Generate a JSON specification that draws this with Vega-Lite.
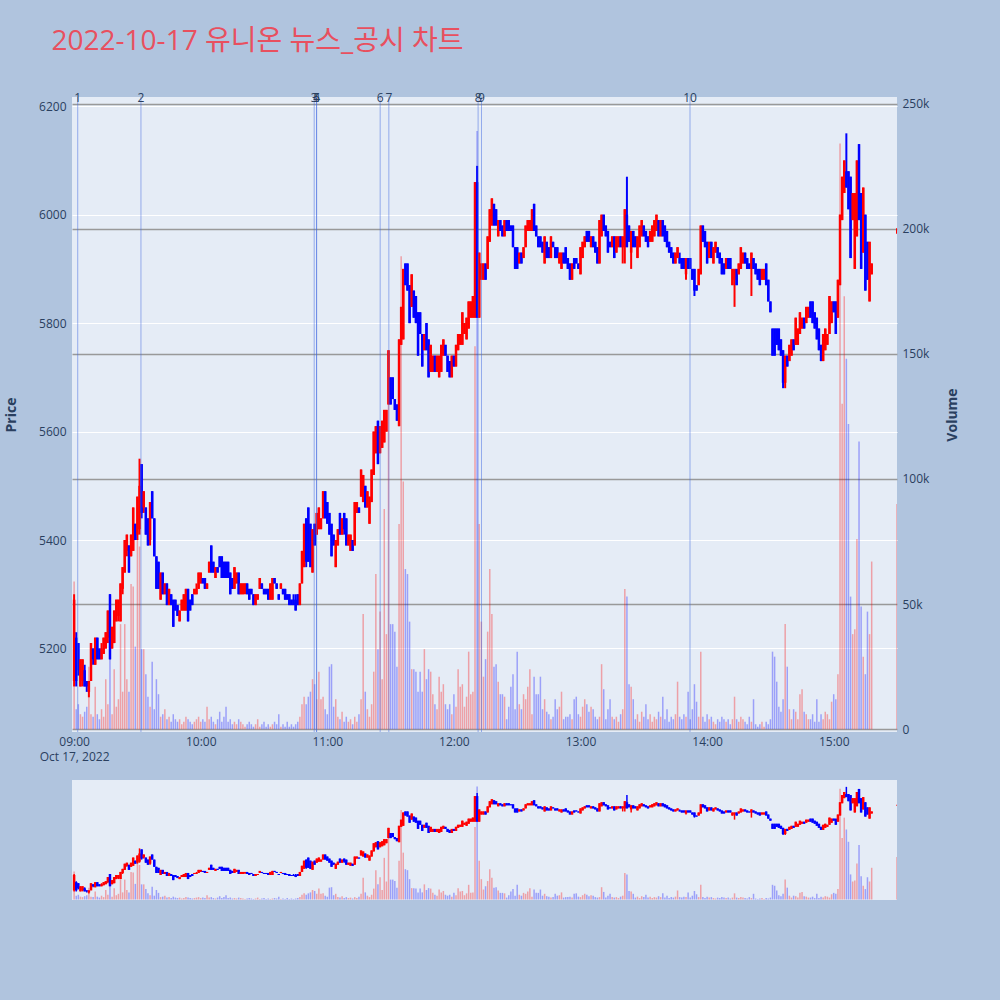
{
"$schema": "https://vega.github.io/schema/vega-lite/v6.json",
"background": "#B0C4DE",
"padding": {"left": 4, "top": 28, "right": 40, "bottom": 100},
"title": {"text": "2022-10-17 유니온 뉴스_공시 차트", "anchor": "start", "fontSize": 28, "font": "Open Sans, Noto Sans CJK KR", "fontWeight": "normal", "color": "#E8505F", "offset": 36, "dx": 47},
"data": {"format": {"parse": {"t": "utc:'%H:%M'"}}, "values": [
{"t":"09:00","o":5140,"h":5300,"l":5130,"c":5290,"v":59000},
{"t":"09:01","o":5220,"h":5230,"l":5130,"c":5140,"v":8000},
{"t":"09:02","o":5210,"h":5210,"l":5150,"c":5160,"v":10000},
{"t":"09:03","o":5130,"h":5180,"l":5130,"c":5180,"v":6000},
{"t":"09:04","o":5140,"h":5180,"l":5130,"c":5180,"v":5000},
{"t":"09:05","o":5160,"h":5170,"l":5130,"c":5130,"v":7000},
{"t":"09:06","o":5140,"h":5140,"l":5120,"c":5130,"v":9000},
{"t":"09:07","o":5120,"h":5140,"l":5110,"c":5140,"v":25000},
{"t":"09:08","o":5140,"h":5210,"l":5140,"c":5210,"v":6000},
{"t":"09:09","o":5200,"h":5200,"l":5170,"c":5180,"v":5000},
{"t":"09:10","o":5170,"h":5220,"l":5170,"c":5220,"v":17000},
{"t":"09:11","o":5220,"h":5220,"l":5180,"c":5180,"v":6000},
{"t":"09:12","o":5200,"h":5200,"l":5180,"c":5180,"v":4000},
{"t":"09:13","o":5180,"h":5210,"l":5180,"c":5200,"v":8000},
{"t":"09:14","o":5190,"h":5220,"l":5190,"c":5220,"v":5000},
{"t":"09:15","o":5200,"h":5230,"l":5200,"c":5230,"v":20000},
{"t":"09:16","o":5220,"h":5270,"l":5210,"c":5270,"v":10000},
{"t":"09:17","o":5300,"h":5300,"l":5180,"c":5180,"v":28000},
{"t":"09:18","o":5200,"h":5240,"l":5200,"c":5240,"v":6000},
{"t":"09:19","o":5210,"h":5270,"l":5210,"c":5270,"v":24000},
{"t":"09:20","o":5250,"h":5290,"l":5250,"c":5290,"v":9000},
{"t":"09:21","o":5260,"h":5290,"l":5250,"c":5290,"v":12000},
{"t":"09:22","o":5250,"h":5320,"l":5250,"c":5320,"v":42000},
{"t":"09:23","o":5310,"h":5350,"l":5300,"c":5350,"v":15000},
{"t":"09:24","o":5340,"h":5400,"l":5340,"c":5400,"v":42000},
{"t":"09:25","o":5380,"h":5410,"l":5370,"c":5410,"v":20000},
{"t":"09:26","o":5390,"h":5390,"l":5340,"c":5340,"v":15000},
{"t":"09:27","o":5370,"h":5410,"l":5370,"c":5410,"v":58000},
{"t":"09:28","o":5380,"h":5460,"l":5380,"c":5460,"v":57000},
{"t":"09:29","o":5430,"h":5430,"l":5400,"c":5400,"v":33000},
{"t":"09:30","o":5410,"h":5480,"l":5400,"c":5480,"v":76000},
{"t":"09:31","o":5420,"h":5550,"l":5410,"c":5500,"v":73000},
{"t":"09:32","o":5540,"h":5540,"l":5440,"c":5450,"v":32000},
{"t":"09:33","o":5460,"h":5490,"l":5450,"c":5490,"v":32000},
{"t":"09:34","o":5460,"h":5460,"l":5410,"c":5410,"v":22000},
{"t":"09:35","o":5440,"h":5440,"l":5390,"c":5390,"v":13000},
{"t":"09:36","o":5400,"h":5470,"l":5390,"c":5470,"v":9000},
{"t":"09:37","o":5490,"h":5490,"l":5440,"c":5440,"v":27000},
{"t":"09:38","o":5440,"h":5440,"l":5370,"c":5370,"v":8000},
{"t":"09:39","o":5370,"h":5370,"l":5310,"c":5310,"v":20000},
{"t":"09:40","o":5360,"h":5360,"l":5310,"c":5310,"v":14000},
{"t":"09:41","o":5290,"h":5340,"l":5290,"c":5340,"v":5000},
{"t":"09:42","o":5340,"h":5340,"l":5300,"c":5300,"v":6000},
{"t":"09:43","o":5300,"h":5320,"l":5300,"c":5320,"v":8000},
{"t":"09:44","o":5320,"h":5320,"l":5280,"c":5280,"v":4000},
{"t":"09:45","o":5280,"h":5310,"l":5280,"c":5310,"v":5000},
{"t":"09:46","o":5300,"h":5300,"l":5280,"c":5280,"v":3000},
{"t":"09:47","o":5290,"h":5290,"l":5240,"c":5240,"v":6000},
{"t":"09:48","o":5290,"h":5290,"l":5270,"c":5270,"v":4000},
{"t":"09:49","o":5280,"h":5280,"l":5260,"c":5260,"v":3000},
{"t":"09:50","o":5250,"h":5270,"l":5250,"c":5270,"v":4000},
{"t":"09:51","o":5270,"h":5290,"l":5270,"c":5290,"v":2000},
{"t":"09:52","o":5270,"h":5300,"l":5270,"c":5300,"v":3000},
{"t":"09:53","o":5270,"h":5310,"l":5270,"c":5310,"v":5000},
{"t":"09:54","o":5310,"h":5310,"l":5250,"c":5250,"v":4000},
{"t":"09:55","o":5290,"h":5290,"l":5270,"c":5270,"v":3000},
{"t":"09:56","o":5300,"h":5300,"l":5280,"c":5280,"v":2000},
{"t":"09:57","o":5300,"h":5310,"l":5300,"c":5310,"v":3000},
{"t":"09:58","o":5300,"h":5320,"l":5300,"c":5310,"v":4000},
{"t":"09:59","o":5310,"h":5340,"l":5310,"c":5340,"v":5000},
{"t":"10:00","o":5320,"h":5340,"l":5320,"c":5340,"v":3000},
{"t":"10:01","o":5330,"h":5330,"l":5320,"c":5320,"v":4000},
{"t":"10:02","o":5330,"h":5330,"l":5310,"c":5310,"v":3000},
{"t":"10:03","o":5310,"h":5320,"l":5310,"c":5320,"v":9000},
{"t":"10:04","o":5340,"h":5360,"l":5340,"c":5360,"v":4000},
{"t":"10:05","o":5390,"h":5390,"l":5340,"c":5340,"v":5000},
{"t":"10:06","o":5360,"h":5360,"l":5340,"c":5340,"v":3000},
{"t":"10:07","o":5330,"h":5350,"l":5330,"c":5350,"v":2000},
{"t":"10:08","o":5350,"h":5350,"l":5340,"c":5340,"v":4000},
{"t":"10:09","o":5370,"h":5370,"l":5350,"c":5350,"v":7000},
{"t":"10:10","o":5370,"h":5370,"l":5330,"c":5330,"v":3000},
{"t":"10:11","o":5360,"h":5360,"l":5330,"c":5330,"v":5000},
{"t":"10:12","o":5360,"h":5360,"l":5330,"c":5330,"v":9000},
{"t":"10:13","o":5360,"h":5360,"l":5330,"c":5330,"v":3000},
{"t":"10:14","o":5340,"h":5340,"l":5300,"c":5300,"v":4000},
{"t":"10:15","o":5330,"h":5330,"l":5310,"c":5310,"v":2000},
{"t":"10:16","o":5310,"h":5350,"l":5310,"c":5350,"v":3000},
{"t":"10:17","o":5320,"h":5340,"l":5320,"c":5340,"v":2000},
{"t":"10:18","o":5340,"h":5340,"l":5300,"c":5300,"v":4000},
{"t":"10:19","o":5300,"h":5320,"l":5300,"c":5320,"v":3000},
{"t":"10:20","o":5300,"h":5320,"l":5300,"c":5320,"v":2000},
{"t":"10:21","o":5310,"h":5320,"l":5300,"c":5320,"v":1000},
{"t":"10:22","o":5320,"h":5320,"l":5300,"c":5300,"v":2000},
{"t":"10:23","o":5310,"h":5310,"l":5290,"c":5290,"v":3000},
{"t":"10:24","o":5310,"h":5310,"l":5300,"c":5300,"v":2000},
{"t":"10:25","o":5300,"h":5300,"l":5280,"c":5280,"v":1000},
{"t":"10:26","o":5280,"h":5300,"l":5280,"c":5300,"v":2000},
{"t":"10:27","o":5290,"h":5300,"l":5290,"c":5300,"v":4000},
{"t":"10:28","o":5310,"h":5330,"l":5310,"c":5330,"v":1000},
{"t":"10:29","o":5320,"h":5320,"l":5310,"c":5310,"v":2000},
{"t":"10:30","o":5310,"h":5310,"l":5300,"c":5300,"v":3000},
{"t":"10:31","o":5310,"h":5310,"l":5300,"c":5300,"v":1000},
{"t":"10:32","o":5310,"h":5310,"l":5290,"c":5290,"v":2000},
{"t":"10:33","o":5290,"h":5320,"l":5290,"c":5320,"v":1000},
{"t":"10:34","o":5290,"h":5330,"l":5290,"c":5330,"v":2000},
{"t":"10:35","o":5330,"h":5330,"l":5320,"c":5320,"v":3000},
{"t":"10:36","o":5320,"h":5320,"l":5310,"c":5310,"v":2000},
{"t":"10:37","o":5300,"h":5300,"l":5290,"c":5290,"v":6000},
{"t":"10:38","o":5310,"h":5320,"l":5310,"c":5320,"v":1000},
{"t":"10:39","o":5310,"h":5310,"l":5300,"c":5300,"v":2000},
{"t":"10:40","o":5310,"h":5310,"l":5290,"c":5290,"v":1000},
{"t":"10:41","o":5300,"h":5300,"l":5290,"c":5290,"v":3000},
{"t":"10:42","o":5300,"h":5300,"l":5280,"c":5280,"v":1000},
{"t":"10:43","o":5290,"h":5290,"l":5280,"c":5280,"v":2000},
{"t":"10:44","o":5290,"h":5300,"l":5280,"c":5280,"v":1000},
{"t":"10:45","o":5290,"h":5300,"l":5270,"c":5270,"v":2000},
{"t":"10:46","o":5300,"h":5300,"l":5280,"c":5280,"v":3000},
{"t":"10:47","o":5280,"h":5320,"l":5280,"c":5320,"v":5000},
{"t":"10:48","o":5320,"h":5380,"l":5320,"c":5380,"v":10000},
{"t":"10:49","o":5350,"h":5430,"l":5350,"c":5430,"v":13000},
{"t":"10:50","o":5440,"h":5440,"l":5350,"c":5360,"v":10000},
{"t":"10:51","o":5460,"h":5460,"l":5360,"c":5360,"v":13000},
{"t":"10:52","o":5430,"h":5430,"l":5350,"c":5350,"v":15000},
{"t":"10:53","o":5340,"h":5420,"l":5340,"c":5420,"v":20000},
{"t":"10:54","o":5430,"h":5430,"l":5390,"c":5390,"v":18000},
{"t":"10:55","o":5410,"h":5450,"l":5410,"c":5450,"v":12000},
{"t":"10:56","o":5420,"h":5460,"l":5420,"c":5460,"v":23000},
{"t":"10:57","o":5420,"h":5440,"l":5420,"c":5440,"v":12000},
{"t":"10:58","o":5440,"h":5490,"l":5440,"c":5490,"v":13000},
{"t":"10:59","o":5490,"h":5490,"l":5440,"c":5440,"v":8000},
{"t":"11:00","o":5470,"h":5470,"l":5430,"c":5430,"v":6000},
{"t":"11:01","o":5450,"h":5450,"l":5410,"c":5410,"v":25000},
{"t":"11:02","o":5430,"h":5430,"l":5370,"c":5370,"v":26000},
{"t":"11:03","o":5410,"h":5410,"l":5390,"c":5390,"v":9000},
{"t":"11:04","o":5350,"h":5400,"l":5350,"c":5400,"v":12000},
{"t":"11:05","o":5390,"h":5420,"l":5390,"c":5420,"v":5000},
{"t":"11:06","o":5450,"h":5450,"l":5410,"c":5410,"v":4000},
{"t":"11:07","o":5410,"h":5440,"l":5410,"c":5440,"v":7000},
{"t":"11:08","o":5450,"h":5450,"l":5410,"c":5420,"v":3000},
{"t":"11:09","o":5440,"h":5440,"l":5390,"c":5390,"v":5000},
{"t":"11:10","o":5390,"h":5410,"l":5390,"c":5410,"v":3000},
{"t":"11:11","o":5380,"h":5410,"l":5380,"c":5410,"v":4000},
{"t":"11:12","o":5400,"h":5400,"l":5380,"c":5380,"v":2000},
{"t":"11:13","o":5390,"h":5470,"l":5390,"c":5470,"v":5000},
{"t":"11:14","o":5450,"h":5470,"l":5450,"c":5470,"v":3000},
{"t":"11:15","o":5460,"h":5460,"l":5450,"c":5450,"v":6000},
{"t":"11:16","o":5480,"h":5530,"l":5480,"c":5530,"v":12000},
{"t":"11:17","o":5470,"h":5520,"l":5470,"c":5520,"v":46000},
{"t":"11:18","o":5500,"h":5500,"l":5460,"c":5460,"v":15000},
{"t":"11:19","o":5460,"h":5490,"l":5460,"c":5490,"v":8000},
{"t":"11:20","o":5430,"h":5480,"l":5430,"c":5480,"v":5000},
{"t":"11:21","o":5470,"h":5530,"l":5470,"c":5530,"v":10000},
{"t":"11:22","o":5520,"h":5600,"l":5520,"c":5600,"v":23000},
{"t":"11:23","o":5560,"h":5610,"l":5560,"c":5610,"v":62000},
{"t":"11:24","o":5620,"h":5620,"l":5540,"c":5540,"v":32000},
{"t":"11:25","o":5560,"h":5610,"l":5560,"c":5610,"v":47000},
{"t":"11:26","o":5570,"h":5620,"l":5570,"c":5620,"v":20000},
{"t":"11:27","o":5580,"h":5640,"l":5580,"c":5640,"v":88000},
{"t":"11:28","o":5600,"h":5640,"l":5600,"c":5640,"v":38000},
{"t":"11:29","o":5650,"h":5750,"l":5650,"c":5750,"v":150000},
{"t":"11:30","o":5700,"h":5700,"l":5650,"c":5650,"v":42000},
{"t":"11:31","o":5700,"h":5700,"l":5660,"c":5660,"v":42000},
{"t":"11:32","o":5660,"h":5660,"l":5640,"c":5640,"v":39000},
{"t":"11:33","o":5650,"h":5650,"l":5620,"c":5620,"v":25000},
{"t":"11:34","o":5610,"h":5770,"l":5610,"c":5770,"v":82000},
{"t":"11:35","o":5760,"h":5830,"l":5760,"c":5830,"v":189000},
{"t":"11:36","o":5770,"h":5900,"l":5770,"c":5900,"v":99000},
{"t":"11:37","o":5910,"h":5910,"l":5870,"c":5870,"v":64000},
{"t":"11:38","o":5910,"h":5910,"l":5860,"c":5860,"v":62000},
{"t":"11:39","o":5870,"h":5870,"l":5800,"c":5800,"v":43000},
{"t":"11:40","o":5830,"h":5890,"l":5830,"c":5890,"v":24000},
{"t":"11:41","o":5860,"h":5860,"l":5810,"c":5810,"v":24000},
{"t":"11:42","o":5850,"h":5850,"l":5800,"c":5800,"v":23000},
{"t":"11:43","o":5820,"h":5820,"l":5740,"c":5740,"v":15000},
{"t":"11:44","o":5820,"h":5820,"l":5780,"c":5780,"v":23000},
{"t":"11:45","o":5780,"h":5780,"l":5720,"c":5720,"v":15000},
{"t":"11:46","o":5750,"h":5780,"l":5750,"c":5780,"v":32000},
{"t":"11:47","o":5800,"h":5800,"l":5750,"c":5750,"v":20000},
{"t":"11:48","o":5770,"h":5770,"l":5700,"c":5700,"v":24000},
{"t":"11:49","o":5710,"h":5760,"l":5710,"c":5760,"v":23000},
{"t":"11:50","o":5710,"h":5740,"l":5710,"c":5740,"v":14000},
{"t":"11:51","o":5740,"h":5740,"l":5710,"c":5710,"v":10000},
{"t":"11:52","o":5710,"h":5740,"l":5710,"c":5740,"v":8000},
{"t":"11:53","o":5700,"h":5740,"l":5700,"c":5740,"v":21000},
{"t":"11:54","o":5710,"h":5760,"l":5710,"c":5760,"v":15000},
{"t":"11:55","o":5740,"h":5770,"l":5740,"c":5770,"v":18000},
{"t":"11:56","o":5760,"h":5760,"l":5740,"c":5740,"v":10000},
{"t":"11:57","o":5740,"h":5740,"l":5710,"c":5710,"v":8000},
{"t":"11:58","o":5730,"h":5730,"l":5700,"c":5700,"v":10000},
{"t":"11:59","o":5700,"h":5740,"l":5700,"c":5740,"v":6000},
{"t":"12:00","o":5740,"h":5740,"l":5720,"c":5720,"v":14000},
{"t":"12:01","o":5720,"h":5760,"l":5720,"c":5760,"v":9000},
{"t":"12:02","o":5750,"h":5780,"l":5750,"c":5780,"v":24000},
{"t":"12:03","o":5760,"h":5780,"l":5760,"c":5780,"v":17000},
{"t":"12:04","o":5760,"h":5820,"l":5760,"c":5820,"v":18000},
{"t":"12:05","o":5780,"h":5800,"l":5780,"c":5800,"v":9000},
{"t":"12:06","o":5770,"h":5810,"l":5770,"c":5810,"v":13000},
{"t":"12:07","o":5790,"h":5840,"l":5790,"c":5840,"v":31000},
{"t":"12:08","o":5810,"h":5840,"l":5810,"c":5840,"v":14000},
{"t":"12:09","o":5810,"h":5850,"l":5810,"c":5850,"v":15000},
{"t":"12:10","o":5810,"h":6060,"l":5810,"c":6060,"v":153000},
{"t":"12:11","o":6060,"h":6090,"l":5810,"c":5810,"v":239000},
{"t":"12:12","o":5810,"h":5930,"l":5810,"c":5930,"v":82000},
{"t":"12:13","o":5880,"h":5910,"l":5880,"c":5910,"v":43000},
{"t":"12:14","o":5880,"h":5910,"l":5880,"c":5910,"v":21000},
{"t":"12:15","o":5910,"h":5910,"l":5880,"c":5880,"v":28000},
{"t":"12:16","o":5900,"h":5960,"l":5900,"c":5960,"v":39000},
{"t":"12:17","o":5950,"h":6010,"l":5950,"c":6010,"v":64000},
{"t":"12:18","o":5980,"h":6030,"l":5980,"c":6030,"v":46000},
{"t":"12:19","o":6020,"h":6020,"l":5980,"c":5980,"v":25000},
{"t":"12:20","o":6010,"h":6010,"l":5980,"c":5980,"v":26000},
{"t":"12:21","o":5960,"h":5990,"l":5960,"c":5990,"v":19000},
{"t":"12:22","o":5990,"h":5990,"l":5970,"c":5970,"v":14000},
{"t":"12:23","o":5980,"h":5980,"l":5960,"c":5960,"v":14000},
{"t":"12:24","o":5960,"h":5990,"l":5960,"c":5990,"v":13000},
{"t":"12:25","o":5990,"h":5990,"l":5970,"c":5970,"v":4000},
{"t":"12:26","o":5990,"h":5990,"l":5970,"c":5970,"v":9000},
{"t":"12:27","o":5980,"h":5980,"l":5970,"c":5970,"v":17000},
{"t":"12:28","o":5980,"h":5980,"l":5940,"c":5940,"v":22000},
{"t":"12:29","o":5940,"h":5940,"l":5900,"c":5900,"v":8000},
{"t":"12:30","o":5940,"h":5940,"l":5900,"c":5900,"v":31000},
{"t":"12:31","o":5910,"h":5930,"l":5910,"c":5930,"v":10000},
{"t":"12:32","o":5930,"h":5930,"l":5910,"c":5910,"v":8000},
{"t":"12:33","o":5920,"h":5940,"l":5920,"c":5940,"v":14000},
{"t":"12:34","o":5940,"h":5980,"l":5940,"c":5980,"v":12000},
{"t":"12:35","o":5970,"h":5990,"l":5970,"c":5990,"v":17000},
{"t":"12:36","o":5970,"h":5990,"l":5970,"c":5990,"v":24000},
{"t":"12:37","o":5970,"h":6010,"l":5970,"c":6010,"v":6000},
{"t":"12:38","o":6020,"h":6020,"l":5970,"c":5970,"v":21000},
{"t":"12:39","o":5980,"h":5980,"l":5960,"c":5960,"v":14000},
{"t":"12:40","o":5960,"h":5960,"l":5940,"c":5940,"v":14000},
{"t":"12:41","o":5960,"h":5960,"l":5940,"c":5940,"v":21000},
{"t":"12:42","o":5950,"h":5950,"l":5930,"c":5930,"v":8000},
{"t":"12:43","o":5910,"h":5960,"l":5910,"c":5960,"v":12000},
{"t":"12:44","o":5950,"h":5950,"l":5920,"c":5920,"v":7000},
{"t":"12:45","o":5940,"h":5940,"l":5920,"c":5920,"v":6000},
{"t":"12:46","o":5920,"h":5960,"l":5920,"c":5960,"v":4000},
{"t":"12:47","o":5950,"h":5950,"l":5940,"c":5940,"v":5000},
{"t":"12:48","o":5940,"h":5940,"l":5920,"c":5920,"v":12000},
{"t":"12:49","o":5940,"h":5940,"l":5920,"c":5920,"v":8000},
{"t":"12:50","o":5910,"h":5930,"l":5910,"c":5930,"v":9000},
{"t":"12:51","o":5900,"h":5930,"l":5900,"c":5930,"v":15000},
{"t":"12:52","o":5930,"h":5930,"l":5910,"c":5910,"v":4000},
{"t":"12:53","o":5940,"h":5940,"l":5910,"c":5910,"v":5000},
{"t":"12:54","o":5920,"h":5920,"l":5900,"c":5900,"v":5000},
{"t":"12:55","o":5910,"h":5910,"l":5880,"c":5880,"v":6000},
{"t":"12:56","o":5880,"h":5910,"l":5880,"c":5910,"v":4000},
{"t":"12:57","o":5920,"h":5920,"l":5900,"c":5900,"v":12000},
{"t":"12:58","o":5920,"h":5920,"l":5910,"c":5910,"v":13000},
{"t":"12:59","o":5910,"h":5910,"l":5900,"c":5900,"v":6000},
{"t":"13:00","o":5890,"h":5940,"l":5890,"c":5940,"v":5000},
{"t":"13:01","o":5920,"h":5950,"l":5920,"c":5950,"v":9000},
{"t":"13:02","o":5940,"h":5960,"l":5940,"c":5960,"v":12000},
{"t":"13:03","o":5970,"h":5970,"l":5950,"c":5950,"v":10000},
{"t":"13:04","o":5970,"h":5970,"l":5950,"c":5950,"v":7000},
{"t":"13:05","o":5940,"h":5960,"l":5940,"c":5960,"v":9000},
{"t":"13:06","o":5960,"h":5960,"l":5940,"c":5940,"v":8000},
{"t":"13:07","o":5950,"h":5950,"l":5930,"c":5930,"v":5000},
{"t":"13:08","o":5940,"h":5940,"l":5910,"c":5910,"v":4000},
{"t":"13:09","o":5910,"h":5990,"l":5910,"c":5990,"v":5000},
{"t":"13:10","o":5960,"h":6000,"l":5960,"c":6000,"v":26000},
{"t":"13:11","o":6000,"h":6000,"l":5970,"c":5970,"v":16000},
{"t":"13:12","o":5980,"h":5980,"l":5960,"c":5960,"v":4000},
{"t":"13:13","o":5970,"h":5970,"l":5930,"c":5930,"v":8000},
{"t":"13:14","o":5950,"h":5950,"l":5940,"c":5940,"v":12000},
{"t":"13:15","o":5940,"h":5960,"l":5940,"c":5960,"v":5000},
{"t":"13:16","o":5960,"h":5960,"l":5920,"c":5920,"v":4000},
{"t":"13:17","o":5930,"h":5960,"l":5930,"c":5960,"v":5000},
{"t":"13:18","o":5940,"h":5960,"l":5940,"c":5960,"v":3000},
{"t":"13:19","o":5960,"h":5960,"l":5940,"c":5940,"v":6000},
{"t":"13:20","o":5940,"h":5960,"l":5910,"c":5960,"v":8000},
{"t":"13:21","o":5940,"h":6010,"l":5910,"c":6010,"v":56000},
{"t":"13:22","o":6000,"h":6070,"l":5940,"c":5940,"v":53000},
{"t":"13:23","o":5980,"h":5980,"l":5950,"c":5950,"v":18000},
{"t":"13:24","o":5930,"h":5970,"l":5900,"c":5970,"v":17000},
{"t":"13:25","o":5970,"h":5970,"l":5940,"c":5940,"v":12000},
{"t":"13:26","o":5960,"h":5960,"l":5940,"c":5940,"v":4000},
{"t":"13:27","o":5920,"h":5960,"l":5920,"c":5960,"v":6000},
{"t":"13:28","o":5940,"h":5980,"l":5940,"c":5980,"v":3000},
{"t":"13:29","o":5960,"h":5990,"l":5960,"c":5990,"v":7000},
{"t":"13:30","o":5980,"h":5980,"l":5960,"c":5960,"v":5000},
{"t":"13:31","o":5970,"h":5970,"l":5950,"c":5950,"v":10000},
{"t":"13:32","o":5960,"h":5960,"l":5940,"c":5940,"v":4000},
{"t":"13:33","o":5950,"h":5970,"l":5950,"c":5970,"v":6000},
{"t":"13:34","o":5950,"h":5980,"l":5950,"c":5980,"v":3000},
{"t":"13:35","o":5960,"h":5990,"l":5960,"c":5990,"v":5000},
{"t":"13:36","o":5970,"h":6000,"l":5970,"c":6000,"v":4000},
{"t":"13:37","o":5990,"h":5990,"l":5960,"c":5960,"v":7000},
{"t":"13:38","o":5960,"h":5990,"l":5960,"c":5990,"v":5000},
{"t":"13:39","o":5990,"h":5990,"l":5960,"c":5960,"v":13000},
{"t":"13:40","o":5980,"h":5980,"l":5950,"c":5950,"v":4000},
{"t":"13:41","o":5970,"h":5970,"l":5940,"c":5940,"v":8000},
{"t":"13:42","o":5950,"h":5950,"l":5930,"c":5930,"v":3000},
{"t":"13:43","o":5940,"h":5940,"l":5920,"c":5920,"v":5000},
{"t":"13:44","o":5930,"h":5930,"l":5910,"c":5910,"v":4000},
{"t":"13:45","o":5910,"h":5930,"l":5910,"c":5930,"v":6000},
{"t":"13:46","o":5920,"h":5940,"l":5920,"c":5940,"v":19000},
{"t":"13:47","o":5920,"h":5930,"l":5910,"c":5910,"v":5000},
{"t":"13:48","o":5920,"h":5920,"l":5900,"c":5900,"v":4000},
{"t":"13:49","o":5920,"h":5920,"l":5900,"c":5900,"v":6000},
{"t":"13:50","o":5890,"h":5920,"l":5880,"c":5920,"v":5000},
{"t":"13:51","o":5920,"h":5920,"l":5900,"c":5900,"v":15000},
{"t":"13:52","o":5920,"h":5920,"l":5900,"c":5900,"v":4000},
{"t":"13:53","o":5900,"h":5900,"l":5880,"c":5880,"v":8000},
{"t":"13:54","o":5900,"h":5900,"l":5850,"c":5860,"v":18000},
{"t":"13:55","o":5870,"h":5870,"l":5860,"c":5860,"v":11000},
{"t":"13:56","o":5870,"h":5900,"l":5870,"c":5900,"v":5000},
{"t":"13:57","o":5890,"h":5980,"l":5890,"c":5980,"v":31000},
{"t":"13:58","o":5980,"h":5980,"l":5950,"c":5950,"v":5000},
{"t":"13:59","o":5970,"h":5970,"l":5940,"c":5940,"v":3000},
{"t":"14:00","o":5950,"h":5950,"l":5910,"c":5910,"v":6000},
{"t":"14:01","o":5920,"h":5950,"l":5920,"c":5950,"v":4000},
{"t":"14:02","o":5950,"h":5950,"l":5920,"c":5920,"v":5000},
{"t":"14:03","o":5910,"h":5940,"l":5910,"c":5940,"v":3000},
{"t":"14:04","o":5930,"h":5950,"l":5930,"c":5950,"v":2000},
{"t":"14:05","o":5940,"h":5940,"l":5920,"c":5920,"v":4000},
{"t":"14:06","o":5930,"h":5930,"l":5910,"c":5910,"v":3000},
{"t":"14:07","o":5920,"h":5920,"l":5890,"c":5890,"v":5000},
{"t":"14:08","o":5910,"h":5910,"l":5890,"c":5890,"v":4000},
{"t":"14:09","o":5900,"h":5920,"l":5900,"c":5920,"v":3000},
{"t":"14:10","o":5920,"h":5920,"l":5900,"c":5900,"v":4000},
{"t":"14:11","o":5920,"h":5920,"l":5900,"c":5900,"v":2000},
{"t":"14:12","o":5870,"h":5900,"l":5870,"c":5900,"v":4000},
{"t":"14:13","o":5880,"h":5900,"l":5830,"c":5900,"v":13000},
{"t":"14:14","o":5900,"h":5900,"l":5870,"c":5870,"v":4000},
{"t":"14:15","o":5890,"h":5910,"l":5890,"c":5910,"v":3000},
{"t":"14:16","o":5900,"h":5940,"l":5900,"c":5940,"v":5000},
{"t":"14:17","o":5910,"h":5930,"l":5910,"c":5930,"v":4000},
{"t":"14:18","o":5930,"h":5930,"l":5910,"c":5910,"v":3000},
{"t":"14:19","o":5920,"h":5920,"l":5900,"c":5900,"v":2000},
{"t":"14:20","o":5910,"h":5910,"l":5900,"c":5900,"v":5000},
{"t":"14:21","o":5900,"h":5930,"l":5850,"c":5930,"v":3000},
{"t":"14:22","o":5920,"h":5920,"l":5900,"c":5900,"v":12000},
{"t":"14:23","o":5910,"h":5910,"l":5890,"c":5890,"v":2000},
{"t":"14:24","o":5900,"h":5900,"l":5880,"c":5880,"v":1000},
{"t":"14:25","o":5900,"h":5900,"l":5870,"c":5870,"v":2000},
{"t":"14:26","o":5880,"h":5900,"l":5880,"c":5900,"v":3000},
{"t":"14:27","o":5880,"h":5900,"l":5880,"c":5900,"v":1000},
{"t":"14:28","o":5910,"h":5910,"l":5870,"c":5870,"v":3000},
{"t":"14:29","o":5880,"h":5880,"l":5840,"c":5840,"v":2000},
{"t":"14:30","o":5840,"h":5840,"l":5820,"c":5820,"v":4000},
{"t":"14:31","o":5790,"h":5790,"l":5740,"c":5740,"v":31000},
{"t":"14:32","o":5790,"h":5790,"l":5740,"c":5740,"v":29000},
{"t":"14:33","o":5790,"h":5790,"l":5760,"c":5760,"v":19000},
{"t":"14:34","o":5790,"h":5790,"l":5750,"c":5750,"v":9000},
{"t":"14:35","o":5770,"h":5770,"l":5740,"c":5740,"v":7000},
{"t":"14:36","o":5750,"h":5750,"l":5680,"c":5690,"v":12000},
{"t":"14:37","o":5690,"h":5740,"l":5680,"c":5740,"v":42000},
{"t":"14:38","o":5740,"h":5740,"l":5720,"c":5720,"v":25000},
{"t":"14:39","o":5730,"h":5760,"l":5730,"c":5760,"v":8000},
{"t":"14:40","o":5740,"h":5770,"l":5740,"c":5770,"v":4000},
{"t":"14:41","o":5770,"h":5770,"l":5750,"c":5750,"v":8000},
{"t":"14:42","o":5760,"h":5810,"l":5760,"c":5810,"v":7000},
{"t":"14:43","o":5760,"h":5790,"l":5760,"c":5790,"v":4000},
{"t":"14:44","o":5780,"h":5820,"l":5780,"c":5820,"v":14000},
{"t":"14:45","o":5790,"h":5810,"l":5790,"c":5810,"v":16000},
{"t":"14:46","o":5810,"h":5810,"l":5790,"c":5790,"v":7000},
{"t":"14:47","o":5800,"h":5830,"l":5800,"c":5830,"v":6000},
{"t":"14:48","o":5810,"h":5830,"l":5810,"c":5830,"v":4000},
{"t":"14:49","o":5840,"h":5840,"l":5810,"c":5810,"v":4000},
{"t":"14:50","o":5840,"h":5840,"l":5800,"c":5800,"v":6000},
{"t":"14:51","o":5820,"h":5820,"l":5790,"c":5790,"v":3000},
{"t":"14:52","o":5810,"h":5810,"l":5770,"c":5770,"v":12000},
{"t":"14:53","o":5790,"h":5790,"l":5750,"c":5750,"v":3000},
{"t":"14:54","o":5760,"h":5760,"l":5730,"c":5730,"v":6000},
{"t":"14:55","o":5730,"h":5780,"l":5730,"c":5780,"v":4000},
{"t":"14:56","o":5750,"h":5790,"l":5750,"c":5790,"v":7000},
{"t":"14:57","o":5760,"h":5780,"l":5760,"c":5780,"v":6000},
{"t":"14:58","o":5780,"h":5850,"l":5780,"c":5850,"v":4000},
{"t":"14:59","o":5800,"h":5840,"l":5800,"c":5840,"v":11000},
{"t":"15:00","o":5840,"h":5840,"l":5820,"c":5820,"v":14000},
{"t":"15:01","o":5840,"h":5840,"l":5780,"c":5780,"v":12000},
{"t":"15:02","o":5810,"h":5880,"l":5810,"c":5880,"v":22000},
{"t":"15:03","o":5870,"h":6000,"l":5870,"c":6000,"v":234000},
{"t":"15:04","o":5990,"h":6070,"l":5990,"c":6070,"v":130000},
{"t":"15:05","o":6040,"h":6100,"l":6040,"c":6100,"v":173000},
{"t":"15:06","o":6080,"h":6150,"l":6050,"c":6050,"v":148000},
{"t":"15:07","o":6080,"h":6080,"l":6010,"c":6010,"v":122000},
{"t":"15:08","o":6070,"h":6070,"l":5920,"c":5920,"v":53000},
{"t":"15:09","o":5990,"h":6040,"l":5990,"c":6040,"v":38000},
{"t":"15:10","o":5900,"h":6040,"l":5900,"c":6040,"v":40000},
{"t":"15:11","o":5960,"h":6100,"l":5960,"c":6100,"v":76000},
{"t":"15:12","o":6130,"h":6130,"l":5990,"c":5990,"v":115000},
{"t":"15:13","o":6040,"h":6040,"l":5900,"c":5900,"v":49000},
{"t":"15:14","o":5930,"h":6050,"l":5930,"c":6050,"v":29000},
{"t":"15:15","o":6000,"h":6000,"l":5860,"c":5860,"v":22000},
{"t":"15:16","o":5950,"h":5950,"l":5880,"c":5880,"v":47000},
{"t":"15:17","o":5840,"h":5950,"l":5840,"c":5950,"v":38000},
{"t":"15:18","o":5890,"h":5910,"l":5890,"c":5910,"v":67000},
{"t":"15:30","o":5970,"h":5975,"l":5965,"c":5970,"v":90000}
]},
"spacing": 48,
"bounds": "flush",
"vconcat": [
{
"width": 825, "height": 635,
"layer": [
{
"mark": {"type": "bar", "width": 1.5, "opacity": 0.32, "clip": true},
"encoding": {
"x": {"field": "t", "type": "temporal", "scale": {"type": "utc", "padding": 0, "domain": [{"year": 1900, "month": 1, "date": 1, "hours": 8, "minutes": 59, "utc": true}, {"year": 1900, "month": 1, "date": 1, "hours": 15, "minutes": 30, "utc": true}]},
"axis": {"title": null, "grid": false, "format": "%H:%M", "values": [{"year": 1900, "month": 1, "date": 1, "hours": 9, "utc": true}, {"year": 1900, "month": 1, "date": 1, "hours": 10, "utc": true}, {"year": 1900, "month": 1, "date": 1, "hours": 11, "utc": true}, {"year": 1900, "month": 1, "date": 1, "hours": 12, "utc": true}, {"year": 1900, "month": 1, "date": 1, "hours": 13, "utc": true}, {"year": 1900, "month": 1, "date": 1, "hours": 14, "utc": true}, {"year": 1900, "month": 1, "date": 1, "hours": 15, "utc": true}], "labelExpr": "utchours(datum.value) == 9 ? [datum.label, 'Oct 17, 2022'] : datum.label", "labelPadding": 4, "labelLineHeight": 15, "labelOverlap": false, "labelFlush": false}},
"y": {"field": "v", "type": "quantitative", "scale": {"domain": [-1100, 252600], "nice": false, "zero": false},
"axis": {"orient": "right", "title": "Volume", "titleAngle": 270, "values": [0, 50000, 100000, 150000, 200000, 250000], "format": "~s", "labelExpr": "datum.value == 0 ? '0' : datum.label", "grid": true, "gridColor": "#999999", "gridWidth": 1.5, "labelPadding": 5, "titlePadding": 31}},
"color": {"condition": {"test": "datum.c >= datum.o", "value": "#FF0000"}, "value": "#0000FF"}
}
},
{
"layer": [
{
"mark": {"type": "rule", "strokeWidth": 2, "clip": true},
"encoding": {
"x": {"field": "t", "type": "temporal", "scale": {"type": "utc", "padding": 0, "domain": [{"year": 1900, "month": 1, "date": 1, "hours": 8, "minutes": 59, "utc": true}, {"year": 1900, "month": 1, "date": 1, "hours": 15, "minutes": 30, "utc": true}]}},
"y": {"field": "l", "type": "quantitative", "scale": {"domain": [5046, 6217], "nice": false, "zero": false},
"axis": {"title": "Price", "values": [5200, 5400, 5600, 5800, 6000, 6200], "format": "d", "grid": true, "gridColor": "#FFFFFF", "gridWidth": 1, "labelPadding": 6, "titlePadding": 20}},
"y2": {"field": "h"},
"color": {"condition": {"test": "datum.c >= datum.o", "value": "#FF0000"}, "value": "#0000FF"}
}
},
{
"mark": {"type": "bar", "width": 2.5, "clip": true},
"encoding": {
"x": {"field": "t", "type": "temporal", "scale": {"type": "utc", "padding": 0, "domain": [{"year": 1900, "month": 1, "date": 1, "hours": 8, "minutes": 59, "utc": true}, {"year": 1900, "month": 1, "date": 1, "hours": 15, "minutes": 30, "utc": true}]}},
"y": {"field": "o", "type": "quantitative"},
"y2": {"field": "c"},
"color": {"condition": {"test": "datum.c >= datum.o", "value": "#FF0000"}, "value": "#0000FF"}
}
},
{
"data": {"values": [
{"n": "1", "t": "1900-01-01T09:01:43Z"}, {"n": "2", "t": "1900-01-01T09:31:41Z"}, {"n": "3", "t": "1900-01-01T10:53:47Z"}, {"n": "4", "t": "1900-01-01T10:54:55Z"}, {"n": "5", "t": "1900-01-01T10:54:55Z"}, {"n": "6", "t": "1900-01-01T11:25:03Z"}, {"n": "7", "t": "1900-01-01T11:29:10Z"}, {"n": "8", "t": "1900-01-01T12:11:28Z"}, {"n": "9", "t": "1900-01-01T12:13:05Z"}, {"n": "10", "t": "1900-01-01T13:51:54Z"}]},
"mark": {"type": "rule", "color": "#4169E1", "opacity": 0.5, "strokeWidth": 1},
"encoding": {
"x": {"field": "t", "type": "temporal", "scale": {"type": "utc", "padding": 0, "domain": [{"year": 1900, "month": 1, "date": 1, "hours": 8, "minutes": 59, "utc": true}, {"year": 1900, "month": 1, "date": 1, "hours": 15, "minutes": 30, "utc": true}]}}
}
},
{
"data": {"values": [
{"n": "1", "t": "1900-01-01T09:01:43Z"}, {"n": "2", "t": "1900-01-01T09:31:41Z"}, {"n": "3", "t": "1900-01-01T10:53:47Z"}, {"n": "4", "t": "1900-01-01T10:54:55Z"}, {"n": "5", "t": "1900-01-01T10:54:55Z"}, {"n": "6", "t": "1900-01-01T11:25:03Z"}, {"n": "7", "t": "1900-01-01T11:29:10Z"}, {"n": "8", "t": "1900-01-01T12:11:28Z"}, {"n": "9", "t": "1900-01-01T12:13:05Z"}, {"n": "10", "t": "1900-01-01T13:51:54Z"}]},
"mark": {"type": "text", "baseline": "bottom", "dy": 8, "fontSize": 12, "color": "#2a3f5f", "font": "Open Sans"},
"encoding": {
"x": {"field": "t", "type": "temporal", "scale": {"type": "utc", "padding": 0, "domain": [{"year": 1900, "month": 1, "date": 1, "hours": 8, "minutes": 59, "utc": true}, {"year": 1900, "month": 1, "date": 1, "hours": 15, "minutes": 30, "utc": true}]}},
"y": {"datum": 6217, "type": "quantitative"},
"text": {"field": "n"}
}
}
]
}
],
"resolve": {"scale": {"y": "independent"}}
},
{
"width": 825, "height": 120,
"layer": [
{
"mark": {"type": "bar", "width": 1.5, "opacity": 0.32, "clip": true},
"encoding": {
"x": {"field": "t", "type": "temporal", "axis": null, "scale": {"type": "utc", "padding": 0, "domain": [{"year": 1900, "month": 1, "date": 1, "hours": 8, "minutes": 59, "utc": true}, {"year": 1900, "month": 1, "date": 1, "hours": 15, "minutes": 30, "utc": true}]}},
"y": {"field": "v", "type": "quantitative", "axis": null, "scale": {"domain": [-1100, 252600], "nice": false, "zero": false}},
"color": {"condition": {"test": "datum.c >= datum.o", "value": "#FF0000"}, "value": "#0000FF"}
}
},
{
"layer": [
{
"mark": {"type": "rule", "strokeWidth": 1.5, "clip": true},
"encoding": {
"x": {"field": "t", "type": "temporal", "axis": null, "scale": {"type": "utc", "padding": 0, "domain": [{"year": 1900, "month": 1, "date": 1, "hours": 8, "minutes": 59, "utc": true}, {"year": 1900, "month": 1, "date": 1, "hours": 15, "minutes": 30, "utc": true}]}},
"y": {"field": "l", "type": "quantitative", "axis": null, "scale": {"domain": [5046, 6217], "nice": false, "zero": false}},
"y2": {"field": "h"},
"color": {"condition": {"test": "datum.c >= datum.o", "value": "#FF0000"}, "value": "#0000FF"}
}
},
{
"mark": {"type": "bar", "width": 2.5, "clip": true},
"encoding": {
"x": {"field": "t", "type": "temporal", "axis": null, "scale": {"type": "utc", "padding": 0, "domain": [{"year": 1900, "month": 1, "date": 1, "hours": 8, "minutes": 59, "utc": true}, {"year": 1900, "month": 1, "date": 1, "hours": 15, "minutes": 30, "utc": true}]}},
"y": {"field": "o", "type": "quantitative"},
"y2": {"field": "c"},
"color": {"condition": {"test": "datum.c >= datum.o", "value": "#FF0000"}, "value": "#0000FF"}
}
}
]
}
],
"resolve": {"scale": {"y": "independent"}}
}
],
"resolve": {"scale": {"x": "independent", "y": "independent"}},
"config": {
"view": {"fill": "#E5ECF6", "stroke": null},
"axis": {"domain": false, "ticks": false, "labelFont": "Open Sans", "labelFontSize": 12, "labelColor": "#2a3f5f", "titleFont": "Open Sans", "titleFontSize": 14, "titleColor": "#2a3f5f", "titleFontWeight": "bold"}
}
}
